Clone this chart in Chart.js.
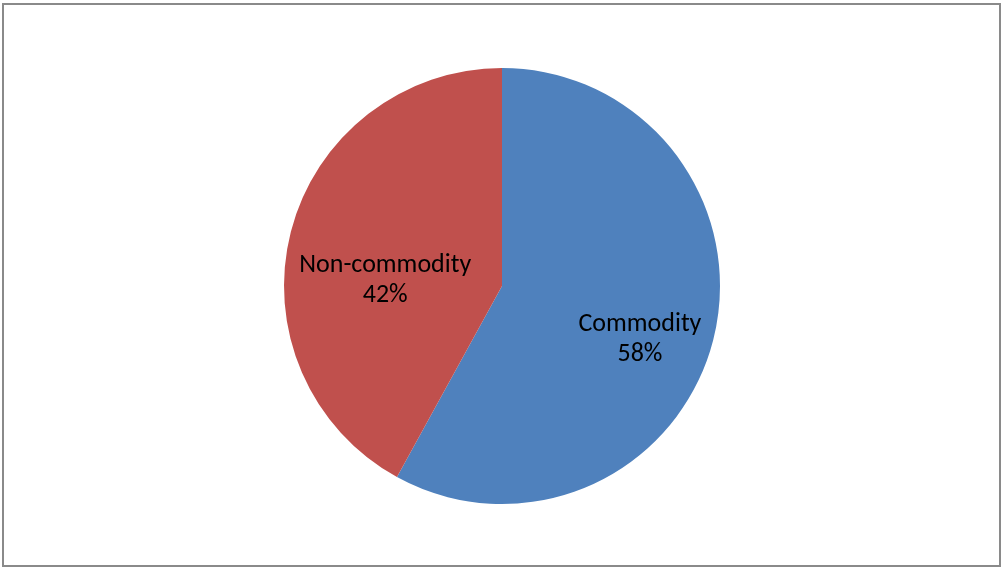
<!DOCTYPE html>
<html>
<head>
<meta charset="utf-8">
<script src="https://cdn.jsdelivr.net/npm/chart.js@4"></script>
<style>
  html, body { margin: 0; padding: 0; background: #fff; }
  #wrap { position: absolute; left: 0; top: 0; width: 1002px; height: 568px; }
  #frame { position: absolute; left: 2px; top: 3px; width: 995px; height: 560px; border: 2px solid #8a8a8a; pointer-events: none; }
</style>
</head>
<body>
<div id="wrap">
  <canvas id="c" width="1002" height="568"></canvas>
  <div id="frame"></div>
</div>
<script>
const categories = ["Commodity", "Non-commodity"];
const values = [58, 42];
const percentLabels = ["58%", "42%"];
const colors = ["#4F81BD", "#C0504D"];

// label placement relative to each slice (angle shift in degrees, radius fraction)
const labelPlacement = [
  { dAngle: 6, rFrac: 0.675 },
  { dAngle: -10.4, rFrac: 0.537 }
];

const labelPlugin = {
  id: 'sliceLabels',
  afterDatasetsDraw(chart) {
    const ctx = chart.ctx;
    const meta = chart.getDatasetMeta(0);
    ctx.save();
    ctx.fillStyle = '#000';
    ctx.font = '26px Carlito, Lato, "Open Sans", sans-serif';
    ctx.textAlign = 'center';
    ctx.textBaseline = 'alphabetic';
    meta.data.forEach((arc, i) => {
      const p = arc.getProps(['x', 'y', 'startAngle', 'endAngle', 'outerRadius'], true);
      const mid = (p.startAngle + p.endAngle) / 2 + labelPlacement[i].dAngle * Math.PI / 180;
      const r = p.outerRadius * labelPlacement[i].rFrac;
      const cx = p.x + Math.cos(mid) * r;
      const cy = p.y + Math.sin(mid) * r;
      ctx.fillText(categories[i], cx, cy - 6);
      ctx.fillText(percentLabels[i], cx, cy + 24);
    });
    ctx.restore();
  }
};

new Chart(document.getElementById('c'), {
  type: 'pie',
  data: {
    labels: categories,
    datasets: [{
      data: values,
      backgroundColor: colors,
      borderWidth: 0
    }]
  },
  options: {
    responsive: false,
    animation: false,
    layout: { padding: { top: 68, bottom: 64, left: 284, right: 282 } },
    plugins: {
      legend: { display: false },
      tooltip: { enabled: false }
    }
  },
  plugins: [labelPlugin]
});
</script>
</body>
</html>
